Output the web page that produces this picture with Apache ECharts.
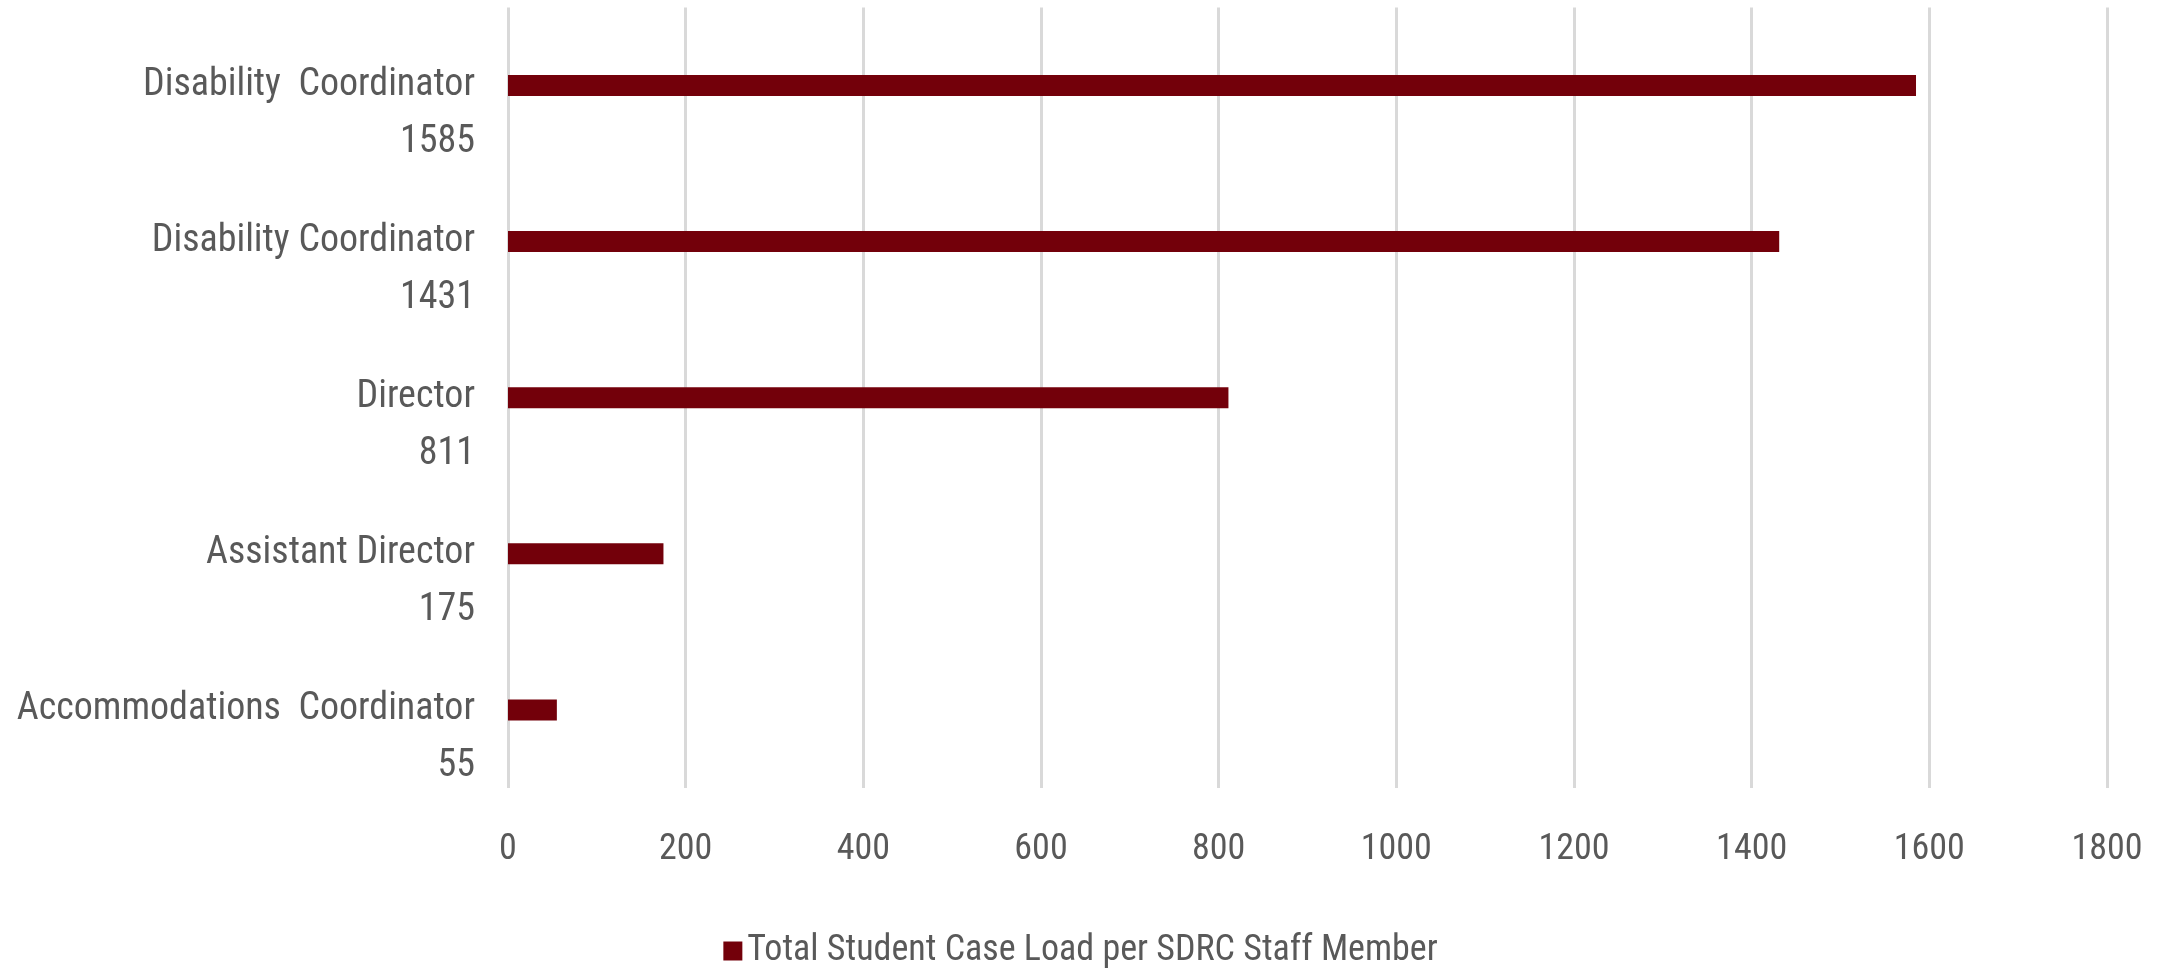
<!DOCTYPE html>
<html>
<head>
<meta charset="utf-8">
<script src="https://cdn.jsdelivr.net/npm/echarts@6/dist/echarts.min.js"></script>
<style>
html,body{margin:0;padding:0;background:#fff;}
#chart{width:2161px;height:969px;}
</style>
</head>
<body>
<div id="chart"></div>
<script>
const categories = [
  "Disability  Coordinator\n1585",
  "Disability Coordinator\n1431",
  "Director\n811",
  "Assistant Director\n175",
  "Accommodations  Coordinator\n55"
];
const caseLoad = [1585, 1431, 811, 175, 55];
const seriesName = "Total Student Case Load per SDRC Staff Member";
const xTicks = { min: 0, max: 1800, interval: 200 };

const FONT = "'Liberation Sans Narrow', 'Arial Narrow', 'Roboto Condensed', Roboto, sans-serif";
const chart = echarts.init(document.getElementById('chart'));
chart.setOption({
  backgroundColor: '#ffffff',
  animation: false,
  grid: { left: 508, right: 54, top: 7, bottom: 181, containLabel: false },
  legend: {
    data: [seriesName],
    top: 928,
    left: 'center',
    itemWidth: 19,
    itemHeight: 19,
    icon: 'rect',
    itemGap: 10,
    textStyle: { color: '#595959', fontSize: 36, fontFamily: FONT }
  },
  xAxis: {
    type: 'value',
    min: xTicks.min,
    max: xTicks.max,
    interval: xTicks.interval,
    axisLine: { show: false },
    axisTick: { show: false },
    axisLabel: { color: '#595959', fontSize: 36, fontFamily: FONT, margin: 44, formatter: v => String(v) },
    splitLine: { show: true, lineStyle: { color: '#d9d9d9', width: 3 } }
  },
  yAxis: {
    type: 'category',
    data: categories,
    inverse: true,
    axisLine: { show: false },
    axisTick: { show: false },
    axisLabel: {
      interval: 0,
      hideOverlap: false,
      color: '#595959',
      fontSize: 38,
      fontFamily: FONT,
      lineHeight: 57,
      margin: 33,
      formatter: v => ' \n' + v
    }
  },
  series: [{
    name: seriesName,
    type: 'bar',
    data: caseLoad,
    barWidth: 21,
    itemStyle: { color: '#73000A' }
  }]
});
</script>
</body>
</html>
